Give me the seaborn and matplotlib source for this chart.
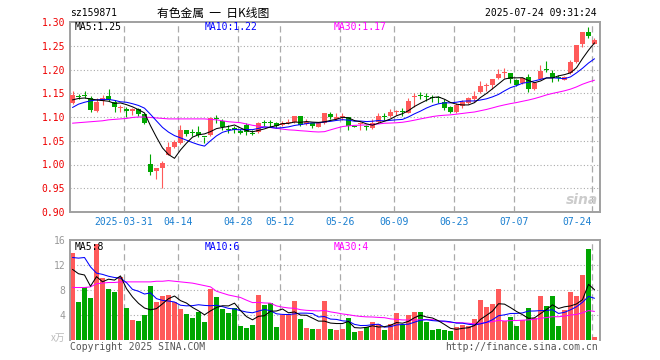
import numpy as np
import pandas as pd
import seaborn as sns
import matplotlib.pyplot as plt

# data, index 0 = 2025-03-18
open_ = [1.130, 1.144, 1.146, 1.139, 1.113, 1.134, 1.144, 1.131, 1.118, 1.116,
         1.113, 1.116, 1.106, 1.002, 0.987, 0.992, 1.021, 1.037, 1.045, 1.073,
         1.068, 1.069, 1.058, 1.062, 1.098, 1.092, 1.075, 1.076, 1.071, 1.084,
         1.067, 1.069, 1.089, 1.089, 1.087, 1.083, 1.087, 1.090, 1.102, 1.085,
         1.088, 1.080, 1.087, 1.106, 1.095, 1.100, 1.099, 1.080, 1.085, 1.081,
         1.076, 1.090, 1.101, 1.102, 1.110, 1.112, 1.109, 1.142, 1.147, 1.145,
         1.142, 1.141, 1.132, 1.120, 1.111, 1.123, 1.130, 1.137, 1.153, 1.166,
         1.167, 1.183, 1.193, 1.193, 1.178, 1.171, 1.185, 1.159, 1.179, 1.201,
         1.193, 1.184, 1.177, 1.192, 1.216, 1.254, 1.280, 1.254]
high = [1.155, 1.148, 1.155, 1.144, 1.139, 1.146, 1.158, 1.136, 1.125, 1.122,
        1.118, 1.118, 1.108, 1.022, 0.992, 1.007, 1.048, 1.051, 1.083, 1.073,
        1.074, 1.081, 1.058, 1.099, 1.104, 1.095, 1.083, 1.081, 1.074, 1.087,
        1.073, 1.090, 1.094, 1.094, 1.089, 1.091, 1.095, 1.102, 1.102, 1.095,
        1.088, 1.089, 1.109, 1.111, 1.109, 1.109, 1.099, 1.082, 1.089, 1.083,
        1.095, 1.108, 1.109, 1.116, 1.115, 1.118, 1.139, 1.150, 1.153, 1.151,
        1.146, 1.144, 1.137, 1.123, 1.129, 1.136, 1.143, 1.155, 1.176, 1.171,
        1.181, 1.202, 1.204, 1.193, 1.179, 1.183, 1.190, 1.172, 1.209, 1.217,
        1.199, 1.188, 1.186, 1.220, 1.252, 1.280, 1.290, 1.267]
low = [1.128, 1.137, 1.139, 1.110, 1.110, 1.125, 1.134, 1.111, 1.110, 1.101,
       1.104, 1.102, 1.085, 0.977, 0.969, 0.950, 1.020, 1.035, 1.043, 1.059,
       1.059, 1.057, 1.045, 1.060, 1.088, 1.073, 1.067, 1.067, 1.064, 1.062,
       1.062, 1.066, 1.081, 1.080, 1.076, 1.081, 1.085, 1.088, 1.081, 1.083,
       1.076, 1.079, 1.085, 1.095, 1.094, 1.094, 1.073, 1.078, 1.073, 1.073,
       1.075, 1.088, 1.094, 1.101, 1.104, 1.102, 1.108, 1.122, 1.137, 1.133,
       1.132, 1.129, 1.115, 1.108, 1.108, 1.120, 1.128, 1.132, 1.151, 1.155,
       1.158, 1.179, 1.183, 1.172, 1.165, 1.169, 1.153, 1.157, 1.179, 1.195,
       1.174, 1.176, 1.177, 1.190, 1.214, 1.248, 1.266, 1.254]
close = [1.146, 1.143, 1.145, 1.115, 1.131, 1.139, 1.136, 1.122, 1.120, 1.113,
         1.116, 1.106, 1.088, 0.985, 0.992, 1.003, 1.037, 1.048, 1.073, 1.064,
         1.066, 1.062, 1.057, 1.097, 1.096, 1.078, 1.073, 1.072, 1.066, 1.069,
         1.064, 1.088, 1.088, 1.087, 1.081, 1.087, 1.090, 1.102, 1.084, 1.089,
         1.081, 1.087, 1.108, 1.099, 1.101, 1.102, 1.081, 1.079, 1.088, 1.078,
         1.088, 1.102, 1.100, 1.111, 1.112, 1.110, 1.134, 1.144, 1.145, 1.143,
         1.140, 1.139, 1.120, 1.111, 1.125, 1.132, 1.139, 1.144, 1.165, 1.168,
         1.181, 1.190, 1.195, 1.179, 1.167, 1.183, 1.160, 1.172, 1.197, 1.199,
         1.183, 1.182, 1.185, 1.216, 1.252, 1.280, 1.270, 1.262]
volume = [14.0, 6.13, 8.43, 6.77, 15.36, 9.87, 8.21, 7.73, 10.08, 5.17,
          3.25, 3.09, 4.0, 8.64, 6.13, 7.09, 7.2, 6.13, 4.96, 4.16,
          3.57, 4.53, 2.93, 8.11, 6.88, 4.96, 4.37, 5.17, 2.24, 1.97,
          2.4, 7.2, 5.6, 5.87, 2.13, 4.0, 4.16, 6.29, 3.36, 1.97,
          1.71, 1.76, 6.29, 1.81, 1.6, 1.71, 3.47, 1.33, 1.49, 2.13,
          2.93, 2.51, 1.6, 2.56, 4.37, 2.4, 4.0, 4.53, 4.53, 2.93,
          1.6, 1.76, 1.6, 1.44, 2.13, 2.4, 2.24, 3.36, 6.4, 5.33,
          5.76, 8.16, 3.04, 3.63, 2.24, 3.2, 5.17, 3.47, 7.04, 5.44,
          7.04, 2.24, 4.8, 7.73, 7.04, 10.4, 14.56, 0.48]

# moving-average values at the left edge (history before the window)
ma5_head = [1.136, 1.139, 1.140, 1.138]
ma10_head = [1.120, 1.127, 1.131, 1.134, 1.136, 1.137, 1.137, 1.135, 1.132]
ma30_head = [1.087, 1.088, 1.089, 1.090, 1.091, 1.092, 1.094, 1.095, 1.096, 1.097,
             1.099, 1.100, 1.100, 1.099, 1.098, 1.097, 1.096, 1.096, 1.096, 1.096,
             1.096, 1.096, 1.096, 1.095, 1.094, 1.092, 1.090, 1.089, 1.088]
vma5_head = [11.3, 10.6, 10.4, 8.6]
vma10_head = [13.2, 13.1, 13.2, 11.7, 10.7, 10.5, 10.2, 10.0, 9.9]
vma30_head = [8.4, 8.4, 8.4, 8.5, 9.0, 9.1, 9.2, 9.2, 9.3, 9.3,
              9.3, 9.3, 9.3, 9.3, 9.4, 9.4, 9.5, 9.4, 9.3, 9.2,
              9.1, 8.9, 8.7, 8.5, 7.8, 7.5, 7.2, 7.0, 6.8]

tick_idx = [9, 18, 28, 35, 45, 54, 64, 74, 87]
tick_labels = ['2025-03-31', '04-14', '04-28', '05-12', '05-26',
               '06-09', '06-23', '07-07', '07-24']


def moving_avg(values, n, head):
    s = pd.Series(values).rolling(n).mean()
    s.iloc[:n - 1] = head
    return s


df = pd.DataFrame({'open': open_, 'high': high, 'low': low,
                   'close': close, 'volume': volume})
df['idx'] = np.arange(len(df))
df['ma5'] = moving_avg(close, 5, ma5_head)
df['ma10'] = moving_avg(close, 10, ma10_head)
df['ma30'] = moving_avg(close, 30, ma30_head)
df['vma5'] = moving_avg(volume, 5, vma5_head)
df['vma10'] = moving_avg(volume, 10, vma10_head)
df['vma30'] = moving_avg(volume, 30, vma30_head)

RED = '#ff5a5a'
GREEN = '#00a600'
GRID = '#aaaaaa'
SPINE = '#a0a0a0'
colors = np.where(df['close'] >= df['open'], RED, GREEN)

sns.set_style('white')
plt.rcParams['font.family'] = ['DejaVu Sans Mono', 'DejaVu Sans']

fig = plt.figure(figsize=(6.6, 3.6), dpi=100)
ax = fig.add_axes([70 / 660, 1 - 212 / 360, 530 / 660, 190 / 360])
axv = fig.add_axes([70 / 660, 1 - 340 / 360, 530 / 660, 100 / 360])

xmin, xmax = -0.4167, 87.917
grid_x = [k - 0.42 for k in tick_idx]

# price panel
for y in np.arange(0.95, 1.28, 0.05):
    ax.axhline(y, color=GRID, lw=0.8, ls=(0, (1, 2)), zorder=0)
for gx in grid_x:
    ax.axvline(gx, color=GRID, lw=0.9, ls=(0, (5, 3)), zorder=0)

ax.vlines(df['idx'], df['low'], df['high'], color=colors, lw=0.8, zorder=2)
body = np.maximum((df['close'] - df['open']).abs(), 0.0021)
ax.bar(df['idx'], body, bottom=np.minimum(df['open'], df['close']),
       width=0.83, color=colors, zorder=3, linewidth=0)

sns.lineplot(data=df, x='idx', y='ma30', ax=ax, color='#ff00ff', lw=0.75, zorder=4)
sns.lineplot(data=df, x='idx', y='ma10', ax=ax, color='#0000ff', lw=0.75, zorder=4)
sns.lineplot(data=df, x='idx', y='ma5', ax=ax, color='black', lw=0.75, zorder=4)

ax.set_xlim(xmin, xmax)
ax.set_ylim(0.90, 1.30)
ax.set_yticks(np.arange(0.90, 1.301, 0.05))
ax.set_yticklabels([f'{v:.2f}' for v in np.arange(0.90, 1.301, 0.05)],
                   color='#ee0000', fontsize=7)
ax.set_xticks(grid_x)
ax.set_xticklabels(tick_labels, color='#1a7fd0', fontsize=7)
ax.get_xticklabels()[-1].set_ha('right')
ax.tick_params(length=0, pad=3.5)
ax.set_xlabel('')
ax.set_ylabel('')
for s in ax.spines.values():
    s.set_color(SPINE)
    s.set_linewidth(1.4)

# volume panel
for y in [4, 8, 12]:
    axv.axhline(y, color=GRID, lw=0.8, ls=(0, (1, 2)), zorder=0)
for gx in grid_x:
    axv.axvline(gx, color=GRID, lw=0.9, ls=(0, (5, 3)), zorder=0)
axv.bar(df['idx'], df['volume'], width=0.83, color=colors, linewidth=0, zorder=2)
sns.lineplot(data=df, x='idx', y='vma30', ax=axv, color='#ff00ff', lw=0.75, zorder=4)
sns.lineplot(data=df, x='idx', y='vma10', ax=axv, color='#0000ff', lw=0.75, zorder=4)
sns.lineplot(data=df, x='idx', y='vma5', ax=axv, color='black', lw=0.75, zorder=4)
axv.set_xlim(xmin, xmax)
axv.set_ylim(0, 16)
axv.set_yticks([4, 8, 12, 16])
axv.set_yticklabels(['4', '8', '12', '16'], color='#999999', fontsize=7)
axv.set_xticks([])
axv.tick_params(length=0, pad=3.5)
axv.set_xlabel('')
axv.set_ylabel('')
for name, s in axv.spines.items():
    s.set_color(SPINE)
    s.set_linewidth(1.4)
axv.spines['bottom'].set_visible(False)


def px(x, y, text, **kw):
    fig.text(x / 660, 1 - y / 360, text, va='center', **kw)


px(70, 13, 'sz159871', fontsize=7, color='black')
px(213, 13, '有色金属  一  日K线图', fontsize=8.5, color='black', ha='center',
   family=['Noto Sans CJK SC', 'DejaVu Sans'])
px(597, 13, '2025-07-24 09:31:24', fontsize=7, color='black', ha='right')

px(75, 27, 'MA5:1.25', fontsize=7, color='black')
px(205, 27, 'MA10:1.22', fontsize=7, color='#0000ff')
px(334, 27, 'MA30:1.17', fontsize=7, color='#ff00ff')
px(75, 247, 'MA5:8', fontsize=7, color='black')
px(205, 247, 'MA10:6', fontsize=7, color='#0000ff')
px(334, 247, 'MA30:4', fontsize=7, color='#ff00ff')

px(65, 338, 'x万', fontsize=7, color='#bbbbbb', ha='right',
   family=['Noto Sans CJK SC', 'DejaVu Sans'])
px(70, 347, 'Copyright 2025 SINA.COM', fontsize=7, color='#555555')
px(598, 347, 'http://finance.sina.com.cn', fontsize=7, color='#555555', ha='right')
px(582, 200, 'sina', fontsize=10, color='#cccccc', ha='center',
   style='italic', weight='bold', family='DejaVu Sans')

fig.savefig('out.png', dpi=100)
